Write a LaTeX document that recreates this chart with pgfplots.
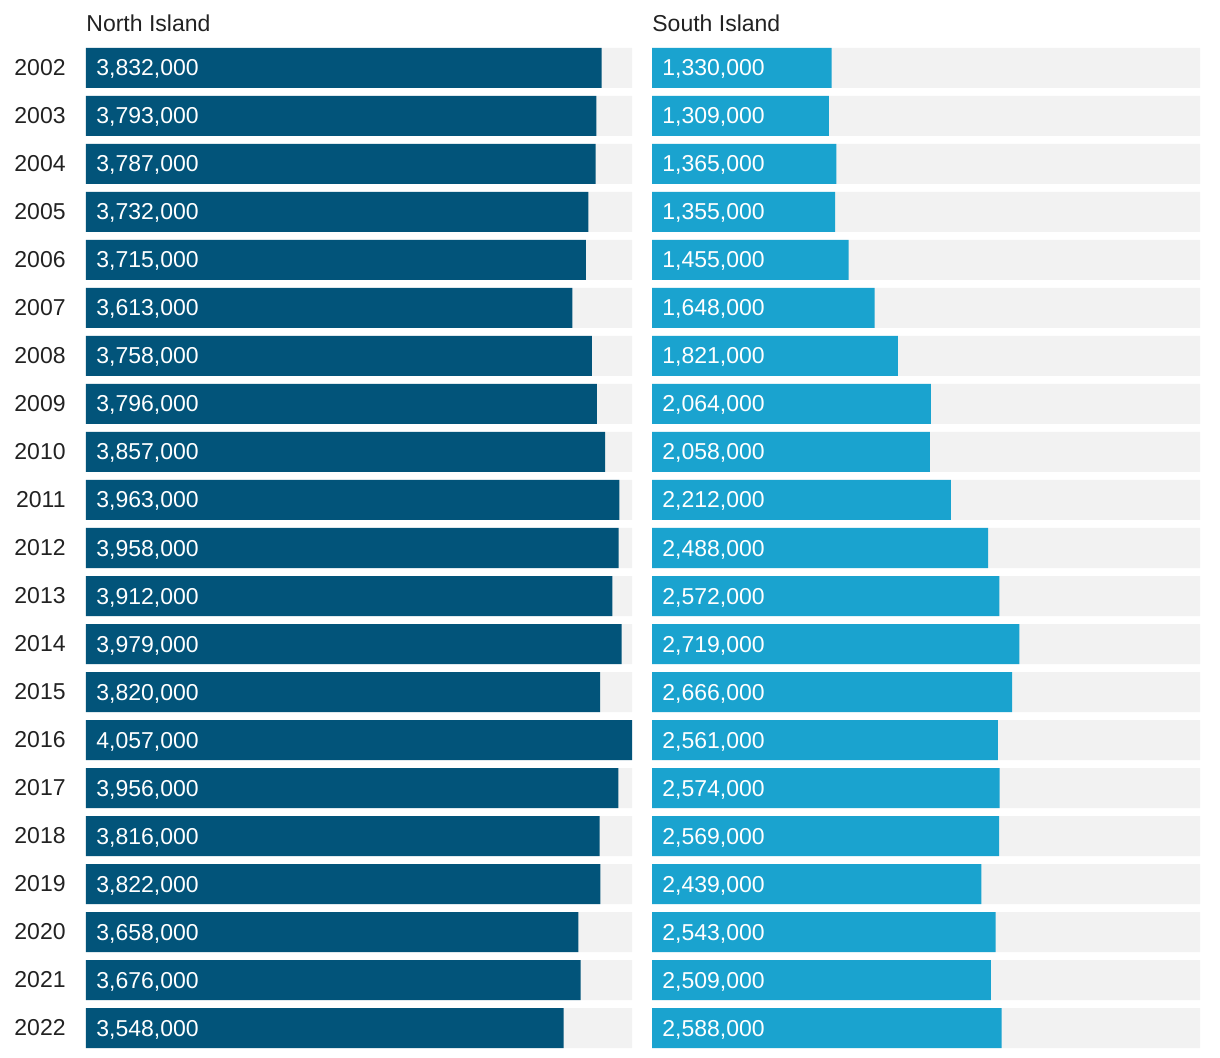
\documentclass[border=0pt]{standalone}
\usepackage{pgfplots}
\pgfplotsset{compat=1.18}
\usepackage{pgfplotstable}
\usepackage{fontspec}
\setmainfont{Liberation Sans}
\definecolor{darkb}{HTML}{02547A}
\definecolor{lightb}{HTML}{1AA3CF}
\definecolor{bgc}{HTML}{F2F2F2}
\definecolor{txt}{HTML}{222222}
\pgfplotstableread{
year north south
2002 3832000 1330000
2003 3793000 1309000
2004 3787000 1365000
2005 3732000 1355000
2006 3715000 1455000
2007 3613000 1648000
2008 3758000 1821000
2009 3796000 2064000
2010 3857000 2058000
2011 3963000 2212000
2012 3958000 2488000
2013 3912000 2572000
2014 3979000 2719000
2015 3820000 2666000
2016 4057000 2561000
2017 3956000 2574000
2018 3816000 2569000
2019 3822000 2439000
2020 3658000 2543000
2021 3676000 2509000
2022 3548000 2588000
}\data
\newcommand{\fs}{\fontsize{11.5}{13}\selectfont}
\pgfplotsset{
  panel/.style={
    scale only axis, height=504pt,
    xmin=0, xmax=4057000,
    ymin=2001.5, ymax=2022.5, y dir=reverse,
    axis line style={draw=none}, tick style={draw=none},
    major tick length=0pt,
    xtick=\empty,
    ytick={2002,2003,...,2022},
    every axis title/.style={at={(0,1)}, anchor=base west, yshift=6pt, inner sep=0pt, font=\fs, text=txt},
  },
  bgbar/.style={xbar, bar width=20pt, bar shift=0pt, fill=bgc, draw=none},
  lbl/.style={draw=none, mark=none,
    nodes near coords={\pgfmathprintnumber[fixed, precision=0, 1000 sep={,}, assume math mode=true]{\pgfplotspointmeta}},
    every node near coord/.append style={anchor=base west, inner sep=0pt, xshift=5pt, yshift=-4pt, text=white, font=\fs}},
}
\begin{document}
\begin{tikzpicture}
\path[use as bounding box] (0pt,0pt) rectangle (610pt,529pt);
\begin{axis}[panel, at={(43pt,3pt)}, anchor=south west, width=273pt,
  title={North Island},
  yticklabel style={font=\fs, text=txt, inner sep=0pt, anchor=east, xshift=-10pt, /pgf/number format/1000 sep={}, /pgf/number format/assume math mode=true},
  ]
\addplot[bgbar] table[x expr=4057000, y=year] {\data};
\addplot[bgbar, fill=darkb] table[x=north, y=year] {\data};
\addplot[lbl, point meta=\thisrow{north}] table[x expr=0, y=year] {\data};
\end{axis}
\begin{axis}[panel, at={(326pt,3pt)}, anchor=south west, width=274pt,
  title={South Island}, yticklabels={},
  ]
\addplot[bgbar] table[x expr=4057000, y=year] {\data};
\addplot[bgbar, fill=lightb] table[x=south, y=year] {\data};
\addplot[lbl, point meta=\thisrow{south}] table[x expr=0, y=year] {\data};
\end{axis}
\end{tikzpicture}
\end{document}
